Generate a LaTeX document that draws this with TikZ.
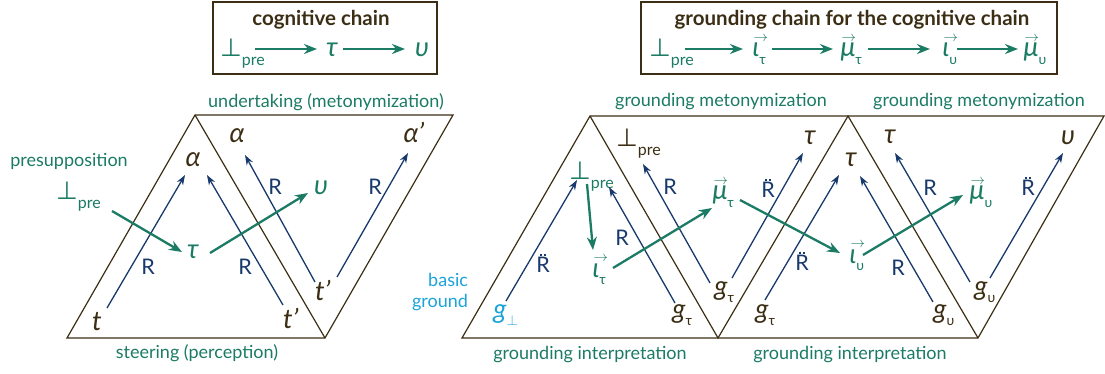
\documentclass[tikz,border=0pt]{standalone}
\usepackage{fontspec}
\setmainfont{Lato}
\newfontfamily\djv{DejaVu Sans}
\usetikzlibrary{arrows.meta}
\definecolor{brn}{HTML}{3C2E14}
\definecolor{grnc}{HTML}{1B7B64}
\definecolor{nvy}{HTML}{17396B}
\definecolor{cyn}{HTML}{1BA3DA}
\newcommand\perpg{{\djv\upshape\fontsize{25}{25}\selectfont ⊥}}
\newcommand\pre{\rlap{\raisebox{-9pt}{\fontsize{16}{16}\selectfont\upshape pre}}}
\newcommand\sbs[1]{\rlap{\raisebox{-7.5pt}{\fontsize{14}{14}\selectfont\upshape #1}}}
\newcommand\vv[1]{\setbox0\hbox{#1}\rlap{\kern1pt\smash{\raisebox{15.5pt}{\fontsize{13.5}{13.5}\selectfont$\rightarrow$}}}\box0}
\newcommand\Rdd{\ooalign{R\cr\hidewidth\raisebox{0.8em}{\rule{1.8pt}{1.8pt}\kern2.4pt\rule{1.8pt}{1.8pt}}\hidewidth\cr}}
\begin{document}
\begin{tikzpicture}[x=1pt,y=-1pt,
  tri/.style={draw=brn, line width=1.2pt},
  boxn/.style={draw=brn, line width=1.4pt, inner sep=0pt},
  title/.style={font=\fontsize{20.5}{24}\selectfont\bfseries, text=brn},
  sym/.style={font=\fontsize{27}{30}\selectfont\itshape, text=brn, inner sep=0pt, anchor=base},
  gsym/.style={sym, text=grnc},
  csym/.style={sym, text=cyn},
  lab/.style={font=\fontsize{18}{21}\selectfont, text=grnc},
  rl/.style={font=\fontsize{21.5}{24}\selectfont, text=nvy, inner sep=0pt},
  narr/.style={draw=nvy, line width=1.3pt, -{Stealth[length=10pt,width=7pt]}},
  garr/.style={draw=grnc, line width=2.3pt, -{Stealth[length=13pt,width=10pt]}}]
\useasboundingbox (0,0) rectangle (1105,374);
% frames
\draw[tri] (67,338) -- (325,338) -- (453,115) -- (195,115) -- cycle;
\draw[tri] (195,115) -- (325,338);
\draw[tri] (462,338) -- (978,338) -- (1104,116) -- (590,116) -- cycle;
\draw[tri] (590,116) -- (718,338) -- (848,116) -- (978,338);
% boxes
\node[boxn, minimum width=224pt, minimum height=72pt] (box1) at (325,38) {};
\node[boxn, minimum width=416pt, minimum height=72pt] (box2) at (849,38) {};
\node[title] (t1) at (321,20) {cognitive chain};
\node[title] (t2) at (852,20) {grounding chain for the cognitive chain};
% chain 1
\node[gsym] (c1a) at (231,57) {\perpg\pre};
\node[gsym] (c1b) at (332,57) {τ};
\node[gsym] (c1c) at (422,57) {υ};
\draw[garr] ([shift={(24,-8)}]c1a.base) -- ([shift={(-15,-8)}]c1b.base);
\draw[garr] ([shift={(11,-8)}]c1b.base) -- ([shift={(-17,-8)}]c1c.base);
% chain 2
\node[gsym] (c2a) at (660,57) {\perpg\pre};
\node[gsym] (c2b) at (756,57) {\vv{ι}\sbs{τ}};
\node[gsym] (c2c) at (848,57) {\vv{μ}\sbs{τ}};
\node[gsym] (c2d) at (946,57) {\vv{ι}\sbs{υ}};
\node[gsym] (c2e) at (1031,57) {\vv{μ}\sbs{υ}};
\draw[garr] ([shift={(25,-8)}]c2a.base) -- ([shift={(-13,-8)}]c2b.base);
\draw[garr] ([shift={(16,-8)}]c2b.base) -- ([shift={(-15,-8)}]c2c.base);
\draw[garr] ([shift={(20,-8)}]c2c.base) -- ([shift={(-16,-8)}]c2d.base);
\draw[garr] ([shift={(11,-8)}]c2d.base) -- ([shift={(-13,-8)}]c2e.base);
% left labels
\node[lab] (l1) at (326,102) {undertaking (metonymization)};
\node[lab] (l2) at (197,353) {steering (perception)};
\node[lab] (l3) at (69,161) {presupposition};
% left symbols
\node[gsym] (pL) at (67,200) {\perpg\pre};
\node[sym] (tL) at (97,330) {t};
\node[sym] (aL1) at (193,167) {α};
\node[sym] (tp1) at (288,328) {t\rlap{’}};
\node[gsym] (tauL) at (193,258) {τ};
\node[gsym] (upsL) at (321,195) {υ};
\node[sym] (aL2) at (237,143) {α};
\node[sym] (tp2) at (320,300) {t\rlap{’}};
\node[sym] (ap) at (411,143) {α\rlap{’}};
\draw[narr] ([shift={(10,-22)}]tL.base) -- ([shift={(-8,8)}]aL1.base);
\draw[narr] ([shift={(-5,-23)}]tp1.base) -- ([shift={(14,8)}]aL1.base);
\draw[narr] ([shift={(-5,-18)}]tp2.base) -- ([shift={(8,12)}]aL2.base);
\draw[narr] ([shift={(17,-23)}]tp2.base) -- ([shift={(-3,10)}]ap.base);
\node[rl] (r1) at (148,267) {R};
\node[rl] (r2) at (245,267) {R};
\node[rl] (r3) at (275,187) {R};
\node[rl] (r4) at (375,187) {R};
\draw[garr] ([shift={(45,11)}]pL.base) -- ([shift={(-11,-6)}]tauL.base);
\draw[garr] ([shift={(17,-5)}]tauL.base) -- ([shift={(-13,-2)}]upsL.base);
% right labels
\node[lab] (m1) at (721,102) {grounding metonymization};
\node[lab] (m2) at (979,102) {grounding metonymization};
\node[lab] (i1) at (590,355) {grounding interpretation};
\node[lab] (i2) at (850,355) {grounding interpretation};
\node[lab, text=cyn, align=right] (bg) at (440,292) {basic\\ground};
% right symbols
\node[csym] (gb) at (500,318) {g\sbs{\fontsize{14}{14}\selectfont$\perp$}};
\node[gsym] (pG) at (580,180) {\perpg\pre};
\node[gsym] (iT) at (596,277) {\vv{ι}\sbs{τ}};
\node[sym] (gT1) at (679,318) {g\sbs{τ}};
\node[sym] (pB) at (627,147) {\perpg\pre};
\node[gsym] (mT) at (720,200) {\vv{μ}\sbs{τ}};
\node[sym] (gT2) at (721,295) {g\sbs{τ}};
\node[sym] (tA) at (810,145) {τ};
\node[sym] (tB) at (851,167) {τ};
\node[sym] (gT3) at (762,318) {g\sbs{τ}};
\node[gsym] (iU) at (853,263) {\vv{ι}\sbs{υ}};
\node[sym] (gU1) at (940,318) {g\sbs{υ}};
\node[sym] (tC) at (890,144) {τ};
\node[gsym] (mU) at (977,200) {\vv{μ}\sbs{υ}};
\node[sym] (gU2) at (981,295) {g\sbs{υ}};
\node[sym] (uR) at (1068,145) {υ};
\draw[narr] ([shift={(6,-17)}]gb.base) -- ([shift={(-3,0)}]pG.base);
\draw[narr] ([shift={(-4,-15)}]gT1.base) -- ([shift={(29,7)}]pG.base);
\draw[narr] ([shift={(-11,-12)}]gT2.base) -- ([shift={(16,17)}]pB.base);
\draw[narr] ([shift={(11,-17)}]gT2.base) -- ([shift={(-7,8)}]tA.base);
\draw[narr] ([shift={(3,-18)}]gT3.base) -- ([shift={(-12,8)}]tB.base);
\draw[narr] ([shift={(-7,-16)}]gU1.base) -- ([shift={(9,9)}]tB.base);
\draw[narr] ([shift={(-11,-13)}]gU2.base) -- ([shift={(5,9)}]tC.base);
\draw[narr] ([shift={(9,-17)}]gU2.base) -- ([shift={(-5,8)}]uR.base);
\node[rl] (r5) at (543,265) {\Rdd};
\node[rl] (r6) at (622,238) {R};
\node[rl] (r7) at (670,187) {R};
\node[rl] (r8) at (768,190) {\Rdd};
\node[rl] (r9) at (802,263) {\Rdd};
\node[rl] (r10) at (898,268) {R};
\node[rl] (r11) at (930,188) {R};
\node[rl] (r12) at (1028,188) {\Rdd};
\draw[garr] ([shift={(7,4)}]pG.base) -- ([shift={(-3,-27)}]iT.base);
\draw[garr] ([shift={(17,-9)}]iT.base) -- ([shift={(-8,8)}]mT.base);
\draw[garr] ([shift={(20,0)}]mT.base) -- ([shift={(-13,-10)}]iU.base);
\draw[garr] ([shift={(10,-8)}]iU.base) -- ([shift={(-14,-5)}]mU.base);
\end{tikzpicture}
\end{document}
